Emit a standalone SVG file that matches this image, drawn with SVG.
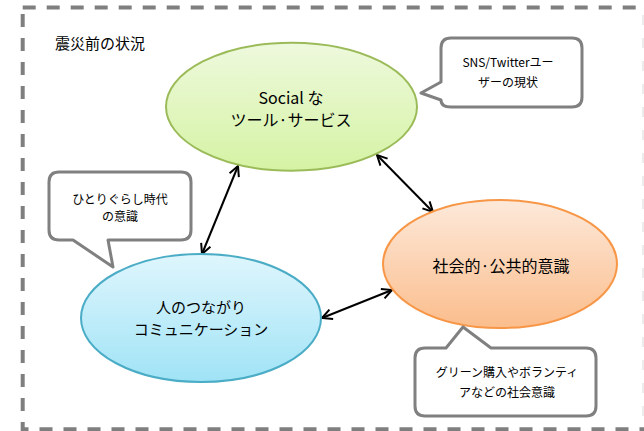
<svg xmlns="http://www.w3.org/2000/svg" width="644" height="431" viewBox="0 0 644 431">
<defs>
<linearGradient id="gGreen" x1="0" y1="0" x2="0" y2="1"><stop offset="0" stop-color="#eef9dd"/><stop offset="1" stop-color="#d5f3a4"/></linearGradient>
<linearGradient id="gBlue" x1="0" y1="0" x2="0" y2="1"><stop offset="0" stop-color="#dff6fd"/><stop offset="1" stop-color="#a0e3f6"/></linearGradient>
<linearGradient id="gOrange" x1="0" y1="0" x2="0" y2="1"><stop offset="0" stop-color="#fde9da"/><stop offset="1" stop-color="#fbbd8c"/></linearGradient>
<marker id="arr" viewBox="0 0 12 12" refX="11" refY="6" markerWidth="12" markerHeight="12" markerUnits="userSpaceOnUse" orient="auto-start-reverse">
<polyline points="1,1 11,6 1,11" fill="none" stroke="#000" stroke-width="2"/>
</marker>
</defs>
<style>
.t{font-family:"Noto Sans CJK JP","Liberation Sans",sans-serif;fill:#000;text-anchor:middle}
.big{font-size:16px}
.mid{font-size:15px}
.small{font-size:12px}
.callout{fill:#fff;stroke:#808080;stroke-width:3;stroke-linejoin:round}
.conn{stroke:#000;stroke-width:2;fill:none;marker-start:url(#arr);marker-end:url(#arr)}
</style>
<line x1="643" y1="15" x2="643" y2="431" stroke="#e6e6e6" stroke-width="1.5" stroke-dasharray="10 13"/>
<rect id="frame" x="22.7" y="7.5" width="680" height="421.8" fill="none" stroke="#7f7f7f" stroke-width="4" stroke-dasharray="13 11"/>
<text class="t" x="55" y="49" style="font-size:15px;text-anchor:start">震災前の状況</text>

<g id="connectors">
<line class="conn" x1="238" y1="166" x2="202" y2="254"/>
<line class="conn" x1="377" y1="155" x2="433" y2="212"/>
<line class="conn" x1="322" y1="318" x2="392" y2="290"/>
</g>

<g id="social">
<ellipse cx="291.5" cy="106.7" rx="125.5" ry="64" fill="url(#gGreen)" stroke="#9bbb59" stroke-width="2"/>
<text class="t big" x="291" y="104">Social な</text>
<text class="t big" x="291" y="126">ツール·サービス</text>
</g>

<g id="people">
<ellipse cx="201" cy="318" rx="120" ry="64" fill="url(#gBlue)" stroke="#4bacc6" stroke-width="2"/>
<text class="t mid" x="201" y="313">人のつながり</text>
<text class="t mid" x="201" y="335">コミュニケーション</text>
</g>

<g id="public">
<ellipse cx="500" cy="264" rx="117" ry="64" fill="url(#gOrange)" stroke="#f79646" stroke-width="2"/>
<text class="t big" x="501" y="272">社会的·公共的意識</text>
</g>

<g id="callout-sns">
<path class="callout" d="M451,38 H572 Q582,38 582,48 V97 Q582,107 572,107 H451 Q441,107 441,100 L421,93 L441,82 V48 Q441,38 451,38 Z"/>
<text class="t small" x="508" y="67">SNS/Twitterユー</text>
<text class="t small" x="508" y="87">ザーの現状</text>
</g>

<g id="callout-alone">
<path class="callout" d="M59,172 H181 Q191,172 191,182 V230 Q191,240 181,240 H108 L113,267 L73,240 H59 Q49,240 49,230 V182 Q49,172 59,172 Z"/>
<text class="t small" x="120" y="204">ひとりぐらし時代</text>
<text class="t small" x="120" y="221">の意識</text>
</g>

<g id="callout-green">
<path class="callout" d="M425,348 H446 L463,327 L491,348 H586 Q596,348 596,358 V406 Q596,416 586,416 H425 Q415,416 415,406 V358 Q415,348 425,348 Z"/>
<text class="t small" x="507" y="377">グリーン購入やボランティ</text>
<text class="t small" x="507" y="397">アなどの社会意識</text>
</g>
</svg>
